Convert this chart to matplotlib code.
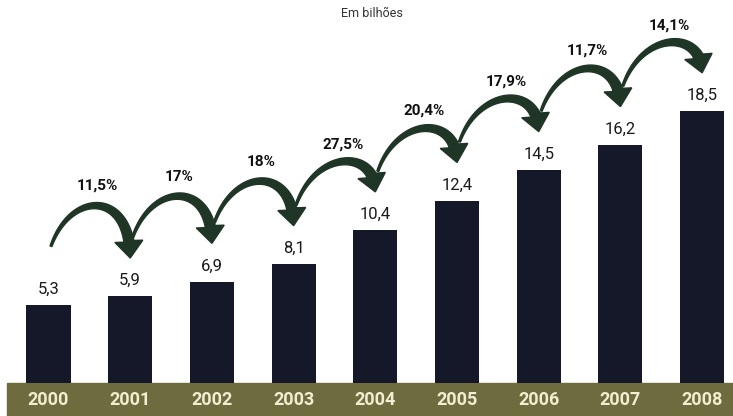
import matplotlib
matplotlib.use("Agg")
import matplotlib.pyplot as plt
from matplotlib.patches import Polygon
from matplotlib.transforms import IdentityTransform
import numpy as np

# receita em bilhoes
anos = ["2000", "2001", "2002", "2003", "2004", "2005", "2006", "2007", "2008"]
valores = [5.3, 5.9, 6.9, 8.1, 10.4, 12.4, 14.5, 16.2, 18.5]
crescimento = ["11,5%", "17%", "18%", "27,5%", "20,4%", "17,9%", "11,7%", "14,1%"]

cor_barra = "#151829"
cor_seta = "#1f3526"
cor_faixa = "#6e6b3e"
fonte = ["Roboto", "DejaVu Sans"]

fig = plt.figure(figsize=(7.33, 4.16), dpi=100)
ax = fig.add_axes([0, 0, 1, 1])
ax.set_xlim(-0.594, 8.378)
ax.set_ylim(-2.245, 26.05)
ax.axis("off")

x = np.arange(len(anos))
ax.bar(x, valores, width=0.54, color=cor_barra, zorder=2)

# faixa verde com os anos
ax.axhspan(-2.245, 0, xmin=0.01, xmax=1, color=cor_faixa, zorder=1)
for xi, ano in zip(x, anos):
    ax.text(xi, -1.15, ano, ha="center", va="center", fontsize=13,
            fontweight="bold", color="#f2eed2", family=fonte, zorder=3)

for xi, v in zip(x, valores):
    ax.text(xi, v + 0.55, f"{v:.1f}".replace(".", ","), ha="center",
            va="bottom", fontsize=12, color="#1a1a1a", family=fonte)


def seta(p0, p3, altura=56, cab_comp=17, cab_larg=14, w0=1.0, w1=5.0):
    # seta curva (bezier cubica) desenhada em pixels
    p0 = np.array(p0)
    p3 = np.array(p3)
    dx = p3[0] - p0[0]
    topo = p0[1] + altura
    c1 = np.array([p0[0] + 0.25 * dx, topo])
    c2 = np.array([p3[0], topo])
    t = np.linspace(0, 1, 400)[:, None]
    pts = ((1 - t) ** 3 * p0 + 3 * (1 - t) ** 2 * t * c1
           + 3 * (1 - t) * t ** 2 * c2 + t ** 3 * p3)
    dist = np.hypot(*(pts - p3).T)
    k = np.argmax(dist < cab_comp)
    eixo = pts[:k + 1]
    d = np.gradient(eixo, axis=0)
    n = np.column_stack([-d[:, 1], d[:, 0]])
    n /= np.hypot(*n.T)[:, None]
    w = np.linspace(w0, w1, len(eixo))[:, None]
    esq = eixo + n * w
    dir_ = eixo - n * w
    base = eixo[-1]
    u = (p3 - base) / np.hypot(*(p3 - base))
    nb = np.array([-u[1], u[0]])
    cabeca = [base + nb * cab_larg, p3, base - nb * cab_larg]
    poly = np.vstack([esq, cabeca, dir_[::-1]])
    ax.add_patch(Polygon(poly, closed=True, color=cor_seta,
                         transform=IdentityTransform(), clip_on=False,
                         zorder=4))


fig.canvas.draw()
for i, txt in enumerate(crescimento):
    cauda = ax.transData.transform((x[i] + 0.03, valores[i] + 4.0))
    ponta = ax.transData.transform((x[i + 1], valores[i + 1] + 2.6))
    seta(cauda, ponta)
    ax.text(x[i] + 0.6, valores[i] + 4.0 + 4.1, txt, ha="center",
            va="center", fontsize=11, fontweight="bold", color="#111111",
            family=fonte)

fig.text(0.508, 0.967, "Em bilhões", ha="center", va="center", fontsize=9,
         color="#333333", family=fonte)

fig.savefig("out.png", dpi=100, facecolor="white")
